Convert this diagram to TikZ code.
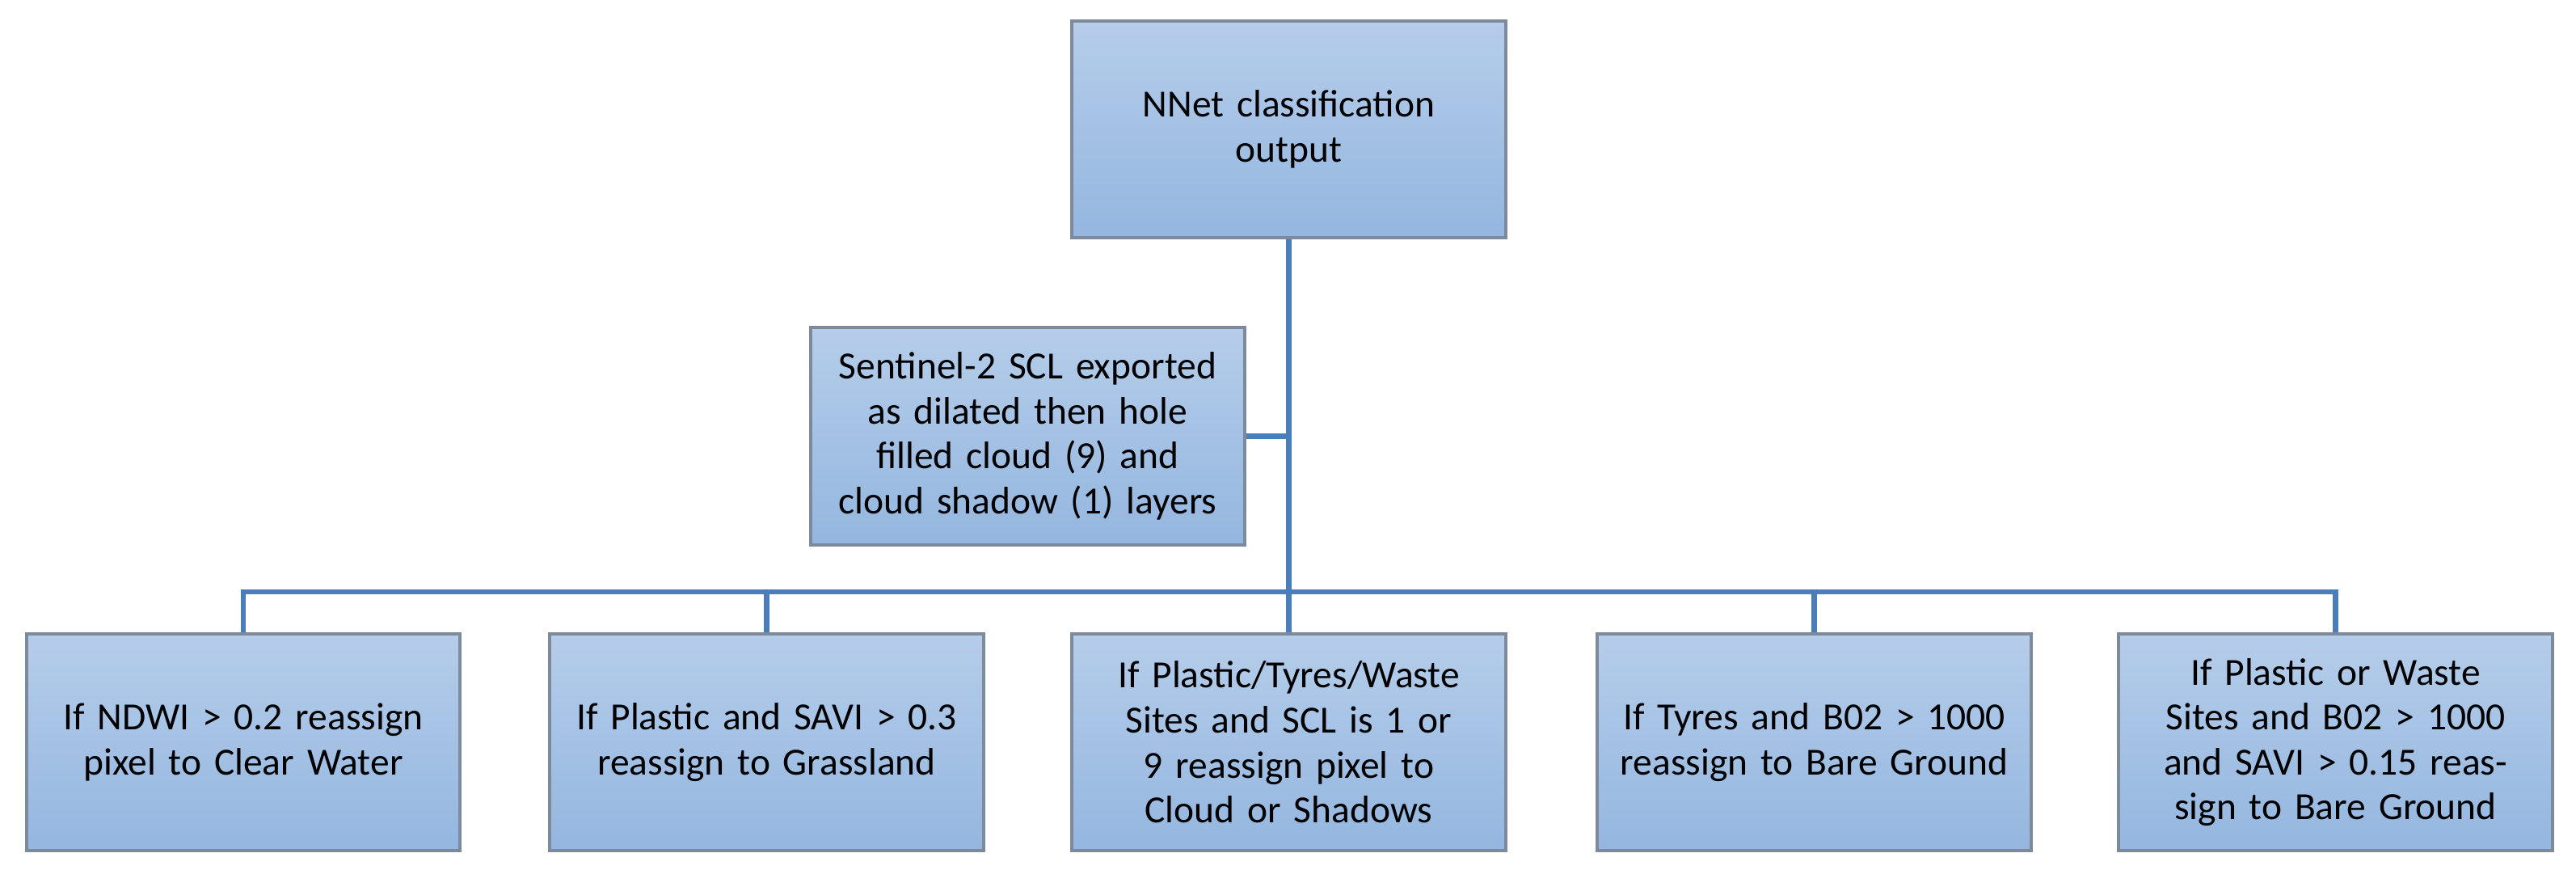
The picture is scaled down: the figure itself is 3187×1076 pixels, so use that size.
\documentclass[tikz,border=0pt]{standalone}
\usepackage{fontspec}
\setmainfont{Carlito}
\definecolor{boxtop}{HTML}{B5CDEA}
\definecolor{boxbot}{HTML}{94B6DF}
\definecolor{boxline}{HTML}{7D8A9C}
\definecolor{link}{HTML}{4A7EBB}
\begin{document}
\begin{tikzpicture}[x=0.01cm,y=-0.01cm,
  box/.style={draw=boxline,line width=1.1pt,top color=boxtop,bottom color=boxbot,
    minimum width=5.36cm,minimum height=2.68cm,text width=5.1cm,align=center,
    inner sep=0pt,font=\fontsize{13.5}{15.8}\selectfont},
  conn/.style={draw=link,line width=1.8pt}]
\useasboundingbox (0,0) rectangle (3187,1076);
\node[box] (top) at (1594.5,160) {NNet classification\\output};
\node[box,minimum height=2.69cm] (scl) at (1271.5,539.5) {Sentinel-2 SCL exported as dilated then hole filled cloud (9) and cloud shadow (1) layers};
\node[box] (b1) at (301,918) {If NDWI > 0.2 reassign pixel to Clear Water};
\node[box] (b2) at (948.5,918) {If Plastic and SAVI > 0.3 reassign to Grassland};
\node[box] (b3) at (1594.5,918) {If Plastic/Tyres/Waste Sites and SCL is 1 or 9 reassign pixel to Cloud or Shadows};
\node[box] (b4) at (2244.5,918) {If Tyres and B02 > 1000 reassign to Bare Ground};
\node[box] (b5) at (2889.5,918) {If Plastic or Waste Sites and B02 > 1000 and SAVI > 0.15 reassign to Bare Ground};
\coordinate (hub) at (1594.5,732);
\draw[conn] (top.south) -- (b3.north);
\draw[conn] (scl.east) -- (scl.east -| top.south);
\draw[conn] (b1.north) |- (hub) -| (b5.north);
\draw[conn] (b2.north) -- (b2.north |- hub);
\draw[conn] (b4.north) -- (b4.north |- hub);
\end{tikzpicture}
\end{document}
